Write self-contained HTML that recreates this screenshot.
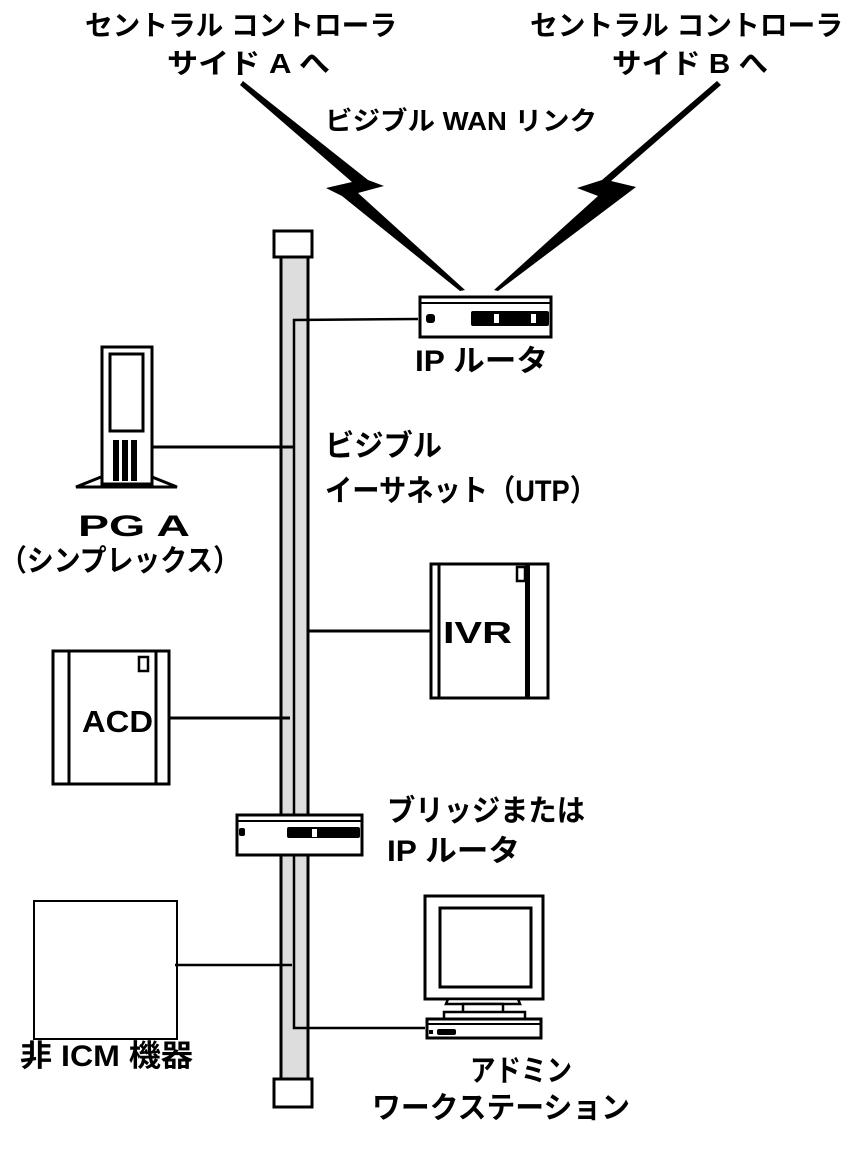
<!DOCTYPE html>
<html><head><meta charset="utf-8"><style>
html,body{margin:0;padding:0;background:#fff;}
svg{display:block;}
text{font-family:"Liberation Sans","Noto Sans CJK JP",sans-serif;font-weight:bold;fill:#000;}
</style></head><body>
<svg width="850" height="1152" viewBox="0 0 850 1152" xmlns="http://www.w3.org/2000/svg">
<g font-size="28">
<text x="85" y="35" textLength="312" lengthAdjust="spacingAndGlyphs">セントラル コントローラ</text>
<text x="167" y="73" textLength="163" lengthAdjust="spacingAndGlyphs">サイド A へ</text>
<text x="530" y="35" textLength="313" lengthAdjust="spacingAndGlyphs">セントラル コントローラ</text>
<text x="612" y="73" textLength="156" lengthAdjust="spacingAndGlyphs">サイド B へ</text>
</g>
<text x="325" y="130" font-size="26" textLength="272" lengthAdjust="spacingAndGlyphs">ビジブル  WAN リンク</text>

<polygon points="243,81 368,180 384,186 358,193 465,290 460,291 342,196 326,188 352,182 240,85" fill="#000"/>
<polygon points="717,81 721,85 611,181 636,187 498,291 494,290 598,196 577,188 602,180" fill="#000"/>

<rect x="281" y="255" width="27" height="824" fill="#ddd" stroke="#000" stroke-width="3"/>
<rect x="274" y="231" width="38" height="26" fill="#fff" stroke="#000" stroke-width="3"/>
<rect x="274" y="1079" width="38" height="28" fill="#fff" stroke="#000" stroke-width="3"/>
<polyline points="418,319 294,320 294,1028 425,1028" fill="none" stroke="#000" stroke-width="2.5"/>

<rect x="420" y="297" width="131" height="40" fill="#fff" stroke="#000" stroke-width="3"/>
<line x1="421" y1="303" x2="550" y2="303" stroke="#000" stroke-width="2"/>
<rect x="426" y="314" width="9" height="9" rx="3" fill="#000"/>
<rect x="471" y="311" width="78" height="15" rx="2" fill="#000"/>
<rect x="494" y="314" width="5" height="9" fill="#fff"/>
<rect x="531" y="314" width="5" height="9" fill="#fff"/>
<text x="415" y="371" font-size="30" textLength="133" lengthAdjust="spacingAndGlyphs">IP ルータ</text>

<polygon points="101,477 76,487 177,487 152,477" fill="#fff" stroke="#000" stroke-width="3"/>
<rect x="102" y="347" width="50" height="137" fill="#fff" stroke="#000" stroke-width="3"/>
<rect x="110" y="354" width="33" height="77" fill="#fff" stroke="#000" stroke-width="3"/>
<rect x="113" y="440" width="6" height="41" fill="#000"/>
<rect x="122" y="440" width="6" height="41" fill="#000"/>
<rect x="131" y="440" width="6" height="41" fill="#000"/>
<line x1="152" y1="447" x2="294" y2="447" stroke="#000" stroke-width="3"/>
<text x="78" y="536" font-size="30" textLength="112" lengthAdjust="spacingAndGlyphs">PG A</text>
<text x="0" y="571" font-size="30" textLength="240" lengthAdjust="spacingAndGlyphs">（シンプレックス）</text>

<text x="325" y="456" font-size="30" textLength="117" lengthAdjust="spacingAndGlyphs">ビジブル</text>
<text x="325" y="501" font-size="30" textLength="272" lengthAdjust="spacingAndGlyphs">イーサネット（UTP）</text>

<line x1="308" y1="631" x2="430" y2="631" stroke="#000" stroke-width="3"/>
<rect x="431" y="564" width="117" height="134" fill="#fff" stroke="#000" stroke-width="3"/>
<line x1="439" y1="564" x2="439" y2="698" stroke="#000" stroke-width="3"/>
<rect x="525" y="564" width="5" height="134" fill="#000"/>
<rect x="517" y="567" width="8" height="14" fill="#fff" stroke="#000" stroke-width="2.5"/>
<text x="443" y="643" font-size="31" textLength="69" lengthAdjust="spacingAndGlyphs">IVR</text>

<line x1="170" y1="718" x2="290" y2="718" stroke="#000" stroke-width="3"/>
<rect x="53" y="651" width="116" height="133" fill="#fff" stroke="#000" stroke-width="3"/>
<line x1="69" y1="651" x2="69" y2="784" stroke="#000" stroke-width="3"/>
<line x1="156" y1="651" x2="156" y2="784" stroke="#000" stroke-width="3"/>
<rect x="139" y="657" width="9" height="14" fill="#fff" stroke="#000" stroke-width="2.5"/>
<text x="82" y="732" font-size="31" textLength="71" lengthAdjust="spacingAndGlyphs">ACD</text>

<rect x="237" y="815" width="125" height="40" fill="#fff" stroke="#000" stroke-width="3"/>
<line x1="238" y1="821" x2="361" y2="821" stroke="#000" stroke-width="2"/>
<rect x="239" y="828" width="6" height="8" rx="2" fill="#000"/>
<rect x="287" y="827" width="73" height="11" rx="2" fill="#000"/>
<rect x="312" y="829" width="5" height="8" fill="#fff"/>
<text x="387" y="821" font-size="30" textLength="198" lengthAdjust="spacingAndGlyphs">ブリッジまたは</text>
<text x="387" y="861" font-size="30" textLength="133" lengthAdjust="spacingAndGlyphs">IP ルータ</text>

<rect x="34" y="901" width="143" height="138" fill="#fff" stroke="#000" stroke-width="2"/>
<line x1="175" y1="965" x2="292" y2="965" stroke="#000" stroke-width="2.5"/>
<text x="20" y="1066" font-size="30" textLength="173" lengthAdjust="spacingAndGlyphs">非 ICM 機器</text>

<rect x="425" y="896" width="118" height="103" fill="#fff" stroke="#000" stroke-width="3"/>
<rect x="440" y="908" width="91" height="79" fill="#fff" stroke="#000" stroke-width="3"/>
<polygon points="448,999 518,999 520,1004 446,1004" fill="#fff" stroke="#000" stroke-width="2.5"/>
<rect x="463" y="1004" width="40" height="9" fill="#fff" stroke="#000" stroke-width="2.5"/>
<rect x="444" y="1012" width="81" height="7" fill="#fff" stroke="#000" stroke-width="2.5"/>
<rect x="427" y="1019" width="114" height="19" fill="#fff" stroke="#000" stroke-width="3"/>
<line x1="427" y1="1024" x2="541" y2="1024" stroke="#000" stroke-width="2"/>
<rect x="429" y="1030" width="4" height="4" fill="#000"/>
<rect x="437" y="1029" width="19" height="6" rx="2" fill="#000"/>
<text x="470" y="1081" font-size="30" textLength="102" lengthAdjust="spacingAndGlyphs">アドミン</text>
<text x="372" y="1118" font-size="30" textLength="258" lengthAdjust="spacingAndGlyphs">ワークステーション</text>
</svg>
</body></html>
